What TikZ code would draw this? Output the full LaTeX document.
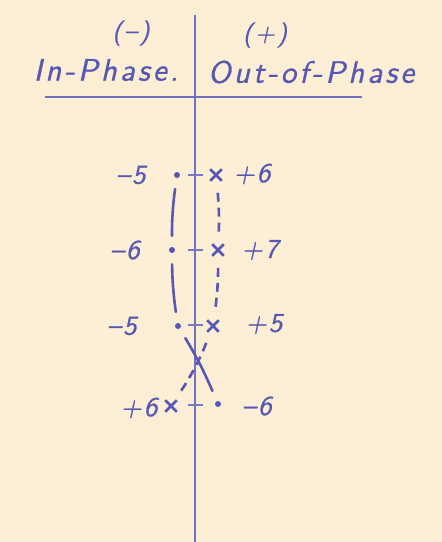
\documentclass[tikz,border=0pt]{standalone}
\usepackage{fontspec}
\usetikzlibrary{shapes.misc, positioning}

\definecolor{paper}{HTML}{FDEED6}
\definecolor{ink}{HTML}{5858B4}

\newfontfamily\handwide{lmsans10-regular.otf}[FakeSlant=0.22, FakeBold=0.8, LetterSpace=10]
\newfontfamily\handnarrow{lmsans10-regular.otf}[FakeSlant=0.22, FakeBold=0.8, LetterSpace=8]

\begin{document}
\begin{tikzpicture}[
  x=1pt, y=-1pt,
  every node/.style={text=ink},
  head/.style={font=\fontsize{31}{31}\handwide},
  sign/.style={font=\fontsize{25}{25}\handwide},
  val/.style={font=\fontsize{27}{27}\handnarrow},
  dotmark/.style={circle, fill=ink, inner sep=0pt, minimum size=6pt},
  crossmark/.style={cross out, draw=ink, line width=2.6pt, inner sep=0pt, minimum size=9pt},
  axis/.style={draw=ink!85, line width=1.4pt},
  tick/.style={draw=ink!80, line width=1.2pt},
  inphase/.style={draw=ink, line width=2.6pt, line cap=round, shorten <=11pt, shorten >=11pt},
  outphase/.style={draw=ink, line width=2.6pt, dash pattern=on 9pt off 6pt, shorten <=12pt, shorten >=10pt}
]

% paper
\fill[paper] (0,0) rectangle (442,542);
\useasboundingbox (0,0) rectangle (442,542);

% axes
\coordinate (axisTop) at (195,15);
\coordinate (axisBot) at (195,542);
\coordinate (ruleL) at (45,97);
\coordinate (ruleR) at (362,97);
\draw[axis] (axisTop) -- (axisBot);
\draw[axis] (ruleL) -- (ruleR);

% headings
\node[sign] (minusHead) at (131,33) {(\textendash)};
\node[head] (inHead) at (106,70) {In-Phase.};
\node[sign] (plusHead) at (265,35) {(+)};
\node[head] (outHead) at (311,72) {Out-of-Phase};

% ticks on the axis
\foreach \y in {175,250,325,405}
  \draw[tick] (188,\y) -- (203,\y);

% in-phase points
\node[dotmark] (dotA) at (177,175) {};
\node[dotmark] (dotB) at (172,250) {};
\node[dotmark] (dotC) at (178,326) {};
\node[dotmark] (dotD) at (218,404) {};

% out-of-phase points
\node[crossmark] (crossA) at (216,175) {};
\node[crossmark] (crossB) at (218,250) {};
\node[crossmark] (crossC) at (213,326) {};
\node[crossmark] (crossD) at (171,406) {};

% values
\node[val] (valA) at (131,175) {\textendash5};
\node[val] (valB) at (125,250) {\textendash6};
\node[val] (valC) at (122,326) {\textendash5};
\node[val] (valD) at (257,406) {\textendash6};
\node[val] (valE) at (252,174) {+6};
\node[val] (valF) at (260,250) {+7};
\node[val] (valG) at (264,324) {+5};
\node[val] (valH) at (139,408) {+6};

% connecting curves
\draw[inphase] (dotA) to[bend right=4] (dotB);
\draw[inphase] (dotB) to[bend right=4] (dotC);
\draw[inphase] (dotC) to[bend left=4] (dotD);
\draw[outphase] (crossA) to[bend left=4] (crossB);
\draw[outphase] (crossB) to[bend left=4] (crossC);
\draw[outphase] (crossC) to[bend left=6] (crossD);

\end{tikzpicture}
\end{document}
